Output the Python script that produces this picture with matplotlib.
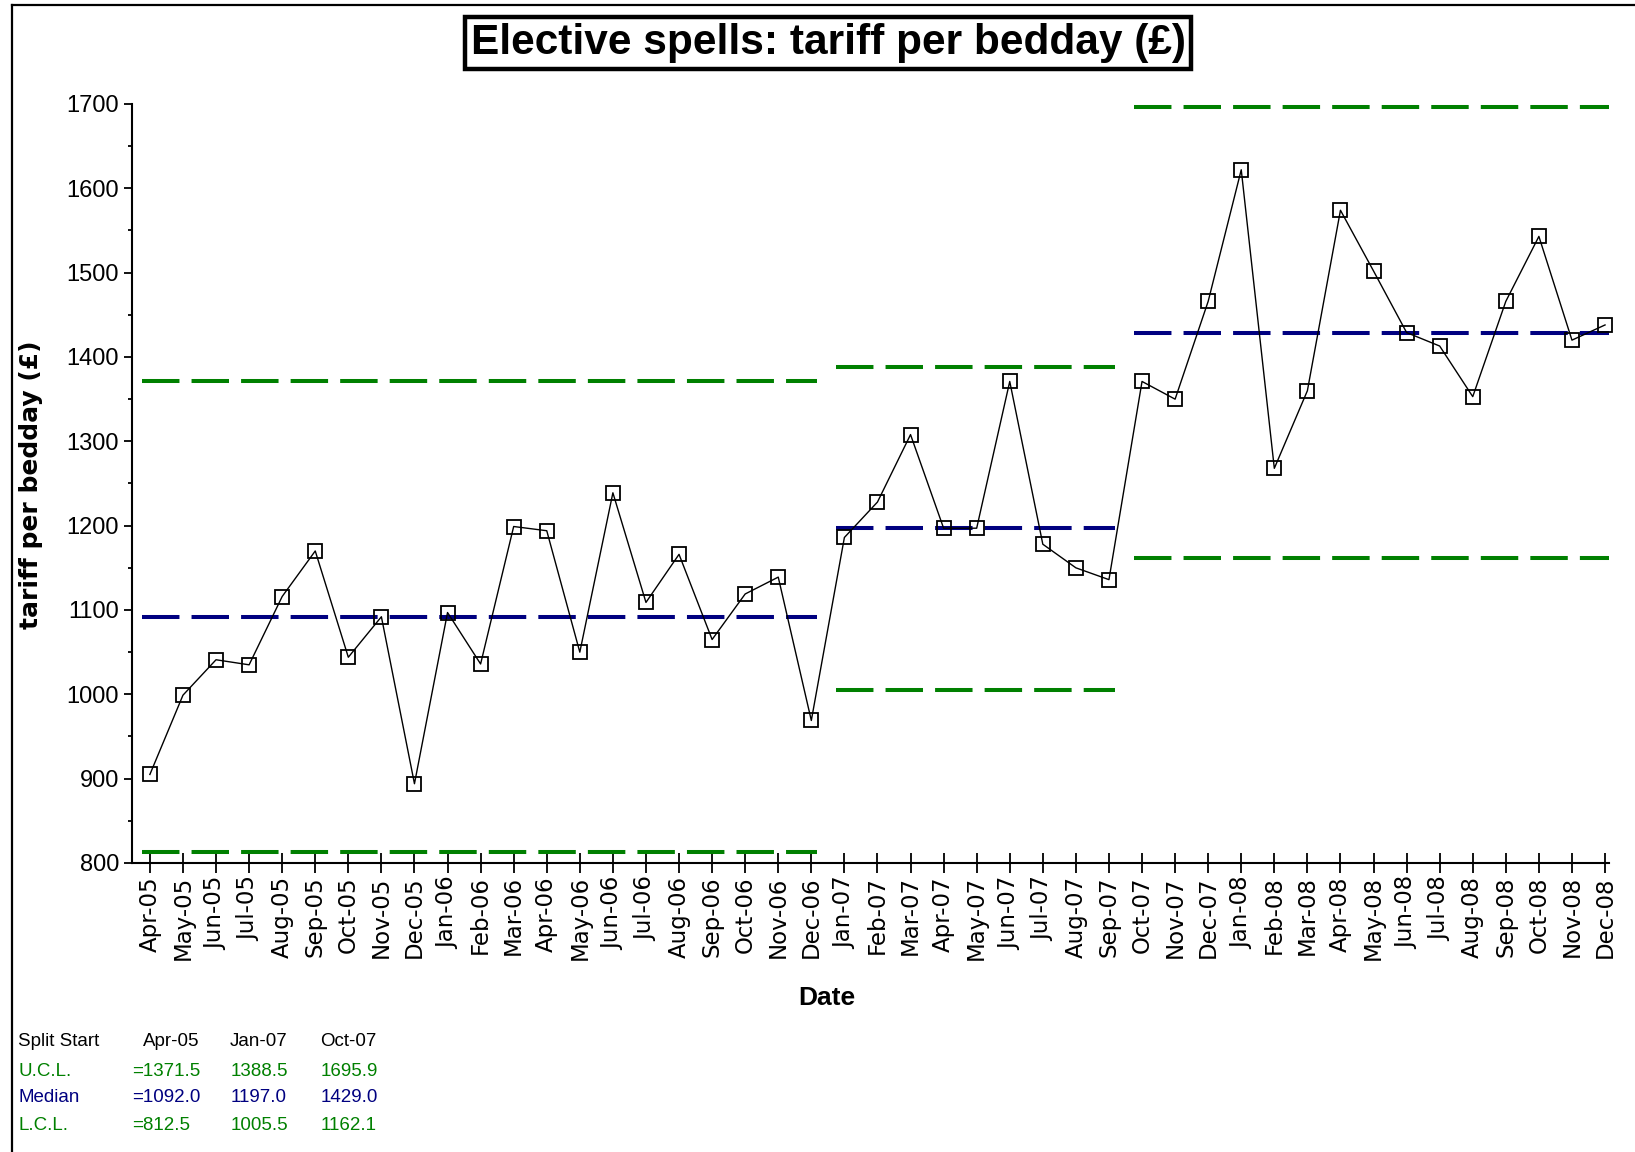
import numpy as np
import matplotlib.pyplot as plt
from matplotlib.lines import Line2D
from matplotlib.ticker import MultipleLocator

months = ["Apr-05", "May-05", "Jun-05", "Jul-05", "Aug-05", "Sep-05", "Oct-05", "Nov-05",
          "Dec-05", "Jan-06", "Feb-06", "Mar-06", "Apr-06", "May-06", "Jun-06", "Jul-06",
          "Aug-06", "Sep-06", "Oct-06", "Nov-06", "Dec-06", "Jan-07", "Feb-07", "Mar-07",
          "Apr-07", "May-07", "Jun-07", "Jul-07", "Aug-07", "Sep-07", "Oct-07", "Nov-07",
          "Dec-07", "Jan-08", "Feb-08", "Mar-08", "Apr-08", "May-08", "Jun-08", "Jul-08",
          "Aug-08", "Sep-08", "Oct-08", "Nov-08", "Dec-08"]
tariff = [905, 999, 1041, 1035, 1116, 1170, 1044, 1092,
          894, 1097, 1036, 1199, 1194, 1050, 1239, 1109,
          1166, 1065, 1119, 1139, 969, 1186, 1228, 1308,
          1197, 1197, 1371, 1178, 1150, 1136, 1371, 1350,
          1466, 1622, 1268, 1360, 1574, 1502, 1429, 1413,
          1353, 1466, 1543, 1420, 1438]

# control chart splits: first and last month of each period
split_start = ["Apr-05", "Jan-07", "Oct-07"]
split_end = ["Dec-06", "Sep-07", "Dec-08"]
ucl = [1371.5, 1388.5, 1695.9]
median = [1092.0, 1197.0, 1429.0]
lcl = [812.5, 1005.5, 1162.1]

GREEN = "#008000"
BLUE = "#000080"

W, H = 1635, 1152
fig = plt.figure(figsize=(W / 100, H / 100), dpi=100)
ax = fig.add_axes([131.7 / W, 1 - 863 / H, (1609 - 131.7) / W, (863 - 104) / H])

x = np.arange(len(months))
ax.plot(x, tariff, color="black", lw=1.0, marker="s", markersize=10,
        markerfacecolor="none", markeredgecolor="black", markeredgewidth=1.3,
        zorder=3, clip_on=False)

dash = dict(lw=2.9, dashes=(9.3, 3.0), solid_capstyle="butt", zorder=2)
for s, e, u, m, l in zip(split_start, split_end, ucl, median, lcl):
    i0, i1 = months.index(s), months.index(e)
    xs = [i0 - 0.25, i1 + 0.18]
    ax.plot(xs, [u, u], color=GREEN, **dash)
    ax.plot(xs, [m, m], color=BLUE, **dash)
    ax.plot(xs, [l, l], color=GREEN, **dash)

ax.set_xlim(-0.55, 44.12)
ax.set_ylim(800, 1700)
for side in ("top", "right"):
    ax.spines[side].set_visible(False)
for side in ("left", "bottom"):
    ax.spines[side].set_linewidth(1.5)

ax.set_xticks(x)
ax.set_xticklabels(months, rotation=90, fontsize=16.5, family="DejaVu Sans", va="top")
ax.tick_params(axis="x", direction="inout", length=15, width=1.3, pad=2)
ax.yaxis.set_major_locator(MultipleLocator(100))
ax.yaxis.set_minor_locator(MultipleLocator(50))
ax.tick_params(axis="y", which="major", direction="out", length=6, width=1.3, pad=3,
               labelsize=17)
ax.tick_params(axis="y", which="minor", direction="out", length=3, width=1.3)
for lab in ax.get_yticklabels():
    lab.set_family("Liberation Sans")

fig.text(828 / W, 1 - 43 / H, "Elective spells: tariff per bedday (\u00a3)",
         ha="center", va="center", fontsize=30.5, fontweight="bold", family="Liberation Sans",
         bbox=dict(boxstyle="square,pad=0.14", facecolor="white", edgecolor="black", lw=3.2))
fig.text(31 / W, 1 - 485 / H, "tariff per bedday (\u00a3)", rotation=90, ha="center",
         va="center", fontsize=18, fontweight="bold", family="DejaVu Sans")
fig.text(827 / W, 1 - 998 / H, "Date", ha="center", va="center", fontsize=19,
         fontweight="bold", family="Liberation Sans")

# summary table of the limits per split
rows_y = [1042, 1071, 1098, 1126]
head_right = [199, 287, 376]
val_left = [132, 231, 321]
tfont = dict(fontsize=13.5, family="Liberation Sans", va="center")
fig.text(18 / W, 1 - rows_y[0] / H, "Split Start", color="black", ha="left", **tfont)
for cx, s in zip(head_right, split_start):
    fig.text(cx / W, 1 - rows_y[0] / H, s, color="black", ha="right", **tfont)
for ry, name, vals, col in zip(rows_y[1:], ["U.C.L.", "Median", "L.C.L."],
                               [ucl, median, lcl], [GREEN, BLUE, GREEN]):
    fig.text(18 / W, 1 - ry / H, name, color=col, ha="left", **tfont)
    for k, (cx, v) in enumerate(zip(val_left, vals)):
        txt = ("=" if k == 0 else "") + f"{v:.1f}"
        fig.text(cx / W, 1 - ry / H, txt, color=col, ha="left", **tfont)

# frame around the figure
fig.add_artist(Line2D([12 / W, 12 / W], [0, 1 - 5 / H], color="black", lw=1.6))
fig.add_artist(Line2D([12 / W, 1], [1 - 5 / H, 1 - 5 / H], color="black", lw=1.6))

fig.savefig("out.png", dpi=100)
